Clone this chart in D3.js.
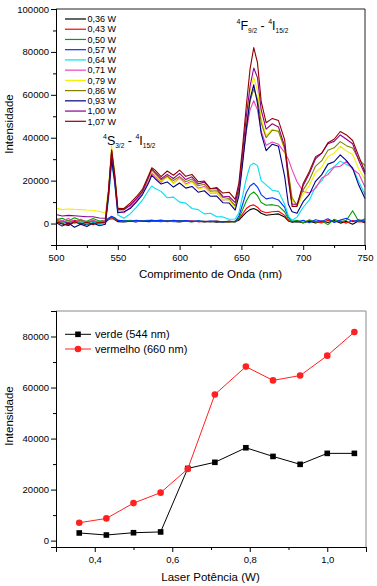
<!DOCTYPE html>
<html>
<head>
<meta charset="utf-8">
<script src="https://cdn.jsdelivr.net/npm/d3@7"></script>
<style>
body { margin: 0; background: #fff; }
text { font-family: "Liberation Sans", Arial, sans-serif; fill: #000; }
</style>
</head>
<body>
<script>
// comprimento de onda (nm)
var wavelengths = [500,505,510,515,520,525,530,535,540,
  542.5,545,547.5,550,
  555,560,565,570,575,577.5,
  580,585,590,595,600,605,610,615,620,625,630,635,640,645,
  648,651,654,657,660,663,666,670,675,680,685,688,691,
  695,700,705,710,715,720,725,730,735,740,745,750];

var powerLabels = ["0,36 W","0,43 W","0,50 W","0,57 W","0,64 W","0,71 W","0,79 W","0,86 W","0,93 W","1,00 W","1,07 W"];
var powerColors = ["#000000","#ff0000","#00a000","#0033ff","#00e0f0","#ee40c0","#f4f000","#808000","#000080","#900090","#900000"];

var s036 = [800,-200,-900,700,200,-600,500,-100,600,
  1800,3000,1800,900,
  700,1100,800,1200,900,1000,
  1200,800,1300,1000,700,1200,900,1100,800,1000,600,900,700,1000,
  1600,3500,5200,6500,7000,6200,4800,3900,4200,4500,3000,1200,600,
  900,400,1100,300,1200,500,1400,200,1000,-300,1300,400];
var s043 = [1500,700,300,1500,900,200,1300,500,1200,
  1900,2200,2000,1300,
  1000,1300,900,1400,1100,1200,
  1000,1300,900,1200,1400,1000,1300,800,1100,900,1200,800,1000,700,
  2000,4500,7000,8300,8700,7600,5800,5000,5500,5700,3800,1400,800,
  1200,600,1400,900,300,1500,800,1200,200,1400,700,1000];
var s050 = [1800,2500,1200,2700,1500,1100,2300,1200,1500,
  2300,3100,2500,1600,
  1200,1500,1000,1300,1500,1100,
  1400,1000,1200,900,1300,1100,800,1200,1000,900,1100,700,1000,800,
  2500,6500,10500,13500,14700,13000,9800,8500,8800,8200,5500,2000,900,
  1500,300,1800,600,1200,-500,2000,800,1500,6000,1000,2200];
var s057 = [500,1400,-300,1100,-500,700,1200,0,900,
  2500,3400,2700,1500,
  1300,1000,1500,1200,1400,1600,
  1300,1600,1100,1500,1200,1400,1000,1300,900,1200,1000,800,1100,900,
  3500,9000,14500,17500,18800,17000,13500,11500,12000,11000,7500,3000,1200,
  800,1500,400,1800,1000,2200,500,1600,2500,900,1800,1200];
var s064 = [1000,300,1400,0,900,-300,700,-500,500,
  11000,28300,18500,4000,
  2500,4500,7500,11000,15500,17500,
  16500,15000,12000,12300,10000,9500,7000,6500,4500,4800,3200,3100,2000,2100,
  5000,13000,21000,27000,28100,27000,20000,18000,15500,15000,9000,3500,1500,
  3000,7600,11000,17100,20000,24600,26500,29100,27500,26100,19500,13500];
var s071 = [2500,1300,2300,800,2000,600,1700,400,1800,
  13000,30700,20000,5500,
  5000,7500,10500,14500,20000,23500,
  22000,19200,22300,18800,21300,18400,19800,16400,17300,14000,14300,11000,11200,8400,
  16000,30000,43000,53000,57300,53000,43000,36500,38000,37000,33000,30000,25000,
  19500,15000,14200,16400,21200,22800,26300,26700,29000,25300,23200,17000];
var s079 = [7200,6500,6800,6600,6500,6300,6200,5600,5000,
  17000,36400,24000,7500,
  7000,9000,12000,15500,21000,24500,
  23000,19800,21500,18700,20900,18000,19300,16100,16800,14200,14300,11200,11000,7200,
  14000,30000,47000,62000,68200,62000,49000,41000,44000,43000,34000,22000,11000,
  8000,13700,17800,23800,26300,31200,32800,36000,33800,32200,25300,20500];
var s086 = [1500,600,1400,400,1600,300,1200,100,1200,
  15000,33000,21500,6500,
  6500,8500,11500,15000,21500,25000,
  23500,20300,22000,20100,21900,19500,20800,17600,18300,15100,15300,12200,11700,8300,
  15000,30000,45000,57000,62800,58000,47000,40000,43500,43000,35000,24000,12000,
  8500,15700,20300,26800,29300,34200,35300,38200,36300,35200,29800,27000];
var s093 = [500,-1200,200,-1700,-300,-1400,200,-1000,-300,
  13000,29900,19500,5000,
  5500,7000,10000,13500,19000,22500,
  21000,18400,19400,17000,18900,16500,17300,14600,15300,12700,12800,9700,9600,6300,
  13000,28000,44000,58000,64700,56000,42000,34000,37000,36000,22000,9000,5500,
  4800,10200,13600,19700,22800,27700,28800,32000,29300,25700,17800,11700];
var s100 = [4200,3500,3800,3600,3400,3200,3200,2600,2500,
  15000,34200,22000,6500,
  6500,8500,11500,15000,22000,25500,
  24000,20900,22900,21000,23400,20500,21800,18500,19300,16200,16300,12700,12600,9800,
  17000,33000,50000,64000,72500,68000,53000,44000,46500,45000,36000,20000,9000,
  9000,17700,23300,30200,32800,37200,38300,41300,39300,37200,29300,23000];
var s107 = [800,0,-700,800,-200,600,-500,700,300,
  15000,34200,23000,7000,
  7000,9500,12500,16000,22500,26000,
  25000,21900,24500,22500,24900,22000,22900,19500,19800,16200,16800,14200,14600,11300,
  19000,36000,55000,72000,82000,75000,57000,47000,49000,48000,39000,22000,8000,
  8000,18700,24300,31200,32800,37700,39300,42900,41300,38700,31300,24000];
var spectra = [s036,s043,s050,s057,s064,s071,s079,s086,s093,s100,s107];

// grafico de baixo
var powers = [0.36,0.43,0.50,0.57,0.64,0.71,0.79,0.86,0.93,1.00,1.07];
var verde = [3000,2200,3100,3400,28300,30700,36400,33000,29900,34200,34200];
var vermelho = [7000,8700,14700,18800,28100,57300,68200,62800,64700,72500,81750];

var topXTicks = [500,550,600,650,700,750];
var topXMinor = [525,575,625,675,725];
var topYTicks = [0,20000,40000,60000,80000,100000];
var topYMinor = [-10000,10000,30000,50000,70000,90000];
var botXTicks = [0.4,0.6,0.8,1.0];
var botXMinor = [0.5,0.7,0.9];
var botYTicks = [0,20000,40000,60000,80000];
var botYMinor = [10000,30000,50000,70000];

var svg = d3.select("body").append("svg").attr("width", 377).attr("height", 586);

function virgula(d) { return d.toFixed(1).replace(".", ","); }

function axes(g, x, y, opt) {
  var x0 = x.range()[0], x1 = x.range()[1], y0 = y.range()[0], y1 = y.range()[1];
  // moldura
  g.append("line").attr("x1", x0).attr("x2", x1).attr("y1", y1).attr("y2", y1).attr("stroke", opt.frame);
  g.append("line").attr("x1", x1).attr("x2", x1).attr("y1", y1).attr("y2", y0).attr("stroke", opt.frame);
  g.append("g").attr("transform", "translate(0," + y0 + ")")
    .call(d3.axisBottom(x).tickValues(opt.xt).tickSize(5).tickPadding(4).tickFormat(opt.xf));
  g.append("g").attr("transform", "translate(0," + y0 + ")")
    .call(d3.axisBottom(x).tickValues(opt.xm).tickSize(3).tickFormat(""));
  g.append("g").attr("transform", "translate(" + x0 + ",0)")
    .call(d3.axisLeft(y).tickValues(opt.yt).tickSize(5).tickPadding(2).tickFormat(d3.format("d")));
  g.append("g").attr("transform", "translate(" + x0 + ",0)")
    .call(d3.axisLeft(y).tickValues(opt.ym).tickSize(3).tickFormat(""));
  g.selectAll(".domain").attr("stroke", "#000");
  g.selectAll(".tick text").attr("font-size", 9.5).attr("font-family", "Liberation Sans, Arial, sans-serif");
}

// ---------- espectro ----------
var xS = d3.scaleLinear().domain([500, 750]).range([56, 365]);
var yS = d3.scaleLinear().domain([-10000, 100000]).range([245, 9]);
var gTop = svg.append("g");

var line = d3.line().x(function(d, i) { return xS(wavelengths[i]); }).y(function(d) { return yS(d); });
spectra.forEach(function(s, k) {
  gTop.append("path").attr("d", line(s)).attr("fill", "none")
    .attr("stroke", powerColors[k]).attr("stroke-width", 1.1).attr("stroke-linejoin", "round");
});

axes(gTop, xS, yS, { xt: topXTicks, xm: topXMinor, yt: topYTicks, ym: topYMinor, xf: d3.format("d"), frame: "#222" });

gTop.append("text").attr("x", 210.5).attr("y", 278).attr("text-anchor", "middle").attr("font-size", 11.5)
  .text("Comprimento de Onda (nm)");
gTop.append("text").attr("transform", "translate(13,124) rotate(-90)").attr("text-anchor", "middle").attr("font-size", 11.5)
  .text("Intensidade");

var leg = gTop.selectAll(".leg").data(powerLabels).enter().append("g")
  .attr("transform", function(d, i) { return "translate(0," + (19 + i * 10.23) + ")"; });
leg.append("line").attr("x1", 65).attr("x2", 86).attr("stroke", function(d, i) { return powerColors[i]; }).attr("stroke-width", 1.2);
leg.append("text").attr("x", 87.5).attr("y", 3.2).attr("font-size", 9).text(function(d) { return d; });

function transicao(x, y, letra, j) {
  var t = gTop.append("text").attr("x", x).attr("y", y);
  t.append("tspan").attr("font-size", 7).attr("dy", -6).text("4");
  t.append("tspan").attr("font-size", 12.5).attr("dy", 6).text(letra);
  t.append("tspan").attr("font-size", 6.5).attr("dy", 3).text(j);
  t.append("tspan").attr("font-size", 12.5).attr("dy", -3).text(" - ");
  t.append("tspan").attr("font-size", 7).attr("dy", -6).text("4");
  t.append("tspan").attr("font-size", 12.5).attr("dy", 6).text("I");
  t.append("tspan").attr("font-size", 6.5).attr("dy", 3).text("15/2");
}
transicao(103, 145, "S", "3/2");
transicao(236.5, 30, "F", "9/2");

// ---------- intensidade x potencia ----------
var xP = d3.scaleLinear().domain([0.3, 1.1]).range([56, 366]);
var yP = d3.scaleLinear().domain([-2500, 90000]).range([547, 311]);
var gBot = svg.append("g");

axes(gBot, xP, yP, { xt: botXTicks, xm: botXMinor, yt: botYTicks, ym: botYMinor, xf: virgula, frame: "#888" });

var lineP = d3.line().x(function(d, i) { return xP(powers[i]); }).y(function(d) { return yP(d); });
gBot.append("path").attr("d", lineP(verde)).attr("fill", "none").attr("stroke", "#000").attr("stroke-width", 1);
gBot.append("path").attr("d", lineP(vermelho)).attr("fill", "none").attr("stroke", "#ff2020").attr("stroke-width", 1);
gBot.selectAll(".sq").data(verde).enter().append("rect")
  .attr("x", function(d, i) { return xP(powers[i]) - 2.8; }).attr("y", function(d) { return yP(d) - 2.8; })
  .attr("width", 5.6).attr("height", 5.6).attr("fill", "#000");
gBot.selectAll(".ci").data(vermelho).enter().append("circle")
  .attr("cx", function(d, i) { return xP(powers[i]); }).attr("cy", function(d) { return yP(d); })
  .attr("r", 3.3).attr("fill", "#ff2020");

gBot.append("text").attr("x", 210.5).attr("y", 581).attr("text-anchor", "middle").attr("font-size", 11.5)
  .text("Laser Potência (W)");
gBot.append("text").attr("transform", "translate(13,416) rotate(-90)").attr("text-anchor", "middle").attr("font-size", 11.5)
  .text("Intensidade");

var legP = [{ t: "verde (544 nm)", c: "#000", y: 334.3, m: "sq" }, { t: "vermelho (660 nm)", c: "#ff2020", y: 349, m: "ci" }];
legP.forEach(function(l) {
  gBot.append("line").attr("x1", 65).attr("x2", 91).attr("y1", l.y).attr("y2", l.y).attr("stroke", l.c);
  if (l.m == "sq") gBot.append("rect").attr("x", 75.2).attr("y", l.y - 2.8).attr("width", 5.6).attr("height", 5.6).attr("fill", l.c);
  else gBot.append("circle").attr("cx", 78).attr("cy", l.y).attr("r", 3.3).attr("fill", l.c);
  gBot.append("text").attr("x", 95).attr("y", l.y + 4).attr("font-size", 11).text(l.t);
});
</script>
</body>
</html>
